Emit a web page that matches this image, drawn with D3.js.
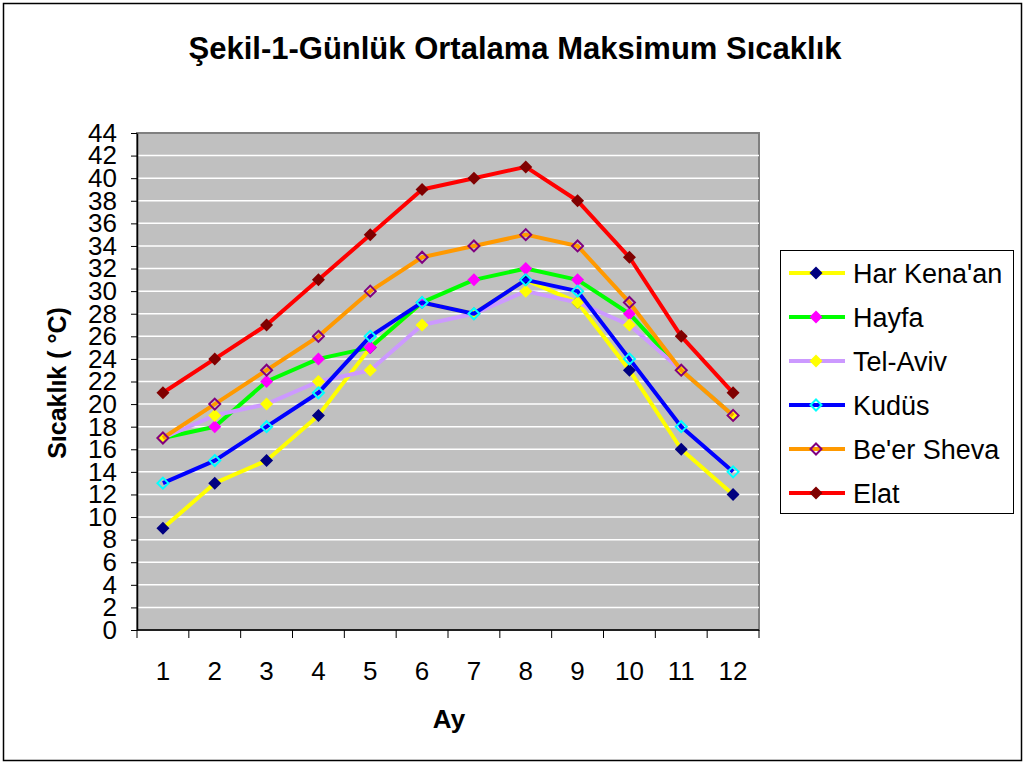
<!DOCTYPE html>
<html>
<head>
<meta charset="utf-8">
<script src="https://cdn.jsdelivr.net/npm/d3@7"></script>
<style>
  body { margin: 0; background: #fff; }
  text { font-family: "Liberation Sans", Arial, sans-serif; fill: #000; }
</style>
</head>
<body>
<svg id="chart" width="1027" height="764"></svg>
<script>
// months
var months = [1, 2, 3, 4, 5, 6, 7, 8, 9, 10, 11, 12];
var yTicks = d3.range(0, 45, 2);

// series values
var harKenaan = [9, 13, 15, 19, 25, 29, 28, 31, 29, 23, 16, 12];
var hayfa     = [17, 18, 22, 24, 25, 29, 31, 32, 31, 28, 23, 19];
var telAviv   = [17, 19, 20, 22, 23, 27, 28, 30, 29, 27, 23, 19];
var kudus     = [13, 15, 18, 21, 26, 29, 28, 31, 30, 24, 18, 14];
var beerSheva = [17, 20, 23, 26, 30, 33, 34, 35, 34, 29, 23, 19];
var elat      = [21, 24, 27, 31, 35, 39, 40, 41, 38, 33, 26, 21];

var seriesNames = ["Har Kena'an", "Hayfa", "Tel-Aviv", "Kudüs", "Be'er Sheva", "Elat"];
var seriesValues = [harKenaan, hayfa, telAviv, kudus, beerSheva, elat];
var lineColors = ["#FFFF00", "#00FF00", "#CC99FF", "#0000FF", "#FF9900", "#FF0000"];
var markerColors = ["#000080", "#FF00FF", "#FFFF00", "#00FFFF", "#800080", "#800000"];
var markerHollow = [false, false, false, true, true, false];

var svg = d3.select("#chart");

// outer frame
svg.append("rect")
    .attr("x", 3.5).attr("y", 3.5)
    .attr("width", 1018).attr("height", 757)
    .attr("fill", "#fff").attr("stroke", "#000").attr("stroke-width", 1.5);

var plot = {left: 137, top: 133, right: 759, bottom: 630};

var x = d3.scaleBand()
    .domain(months)
    .range([plot.left, plot.right]);

var y = d3.scaleLinear()
    .domain([0, 44])
    .range([plot.bottom, plot.top]);

// plot background
svg.append("rect")
    .attr("x", plot.left).attr("y", plot.top)
    .attr("width", plot.right - plot.left).attr("height", plot.bottom - plot.top)
    .attr("fill", "#C0C0C0").attr("stroke", "#808080").attr("stroke-width", 2);

// gridlines
svg.append("g")
    .selectAll("line")
    .data(yTicks.filter(function(d) { return d > 0 && d < 44; }))
    .join("line")
    .attr("x1", plot.left).attr("x2", plot.right)
    .attr("y1", function(d) { return y(d); })
    .attr("y2", function(d) { return y(d); })
    .attr("stroke", "#fff").attr("stroke-width", 1.5);

// y axis
var yAxis = svg.append("g")
    .attr("transform", "translate(" + plot.left + ",0)")
    .call(d3.axisLeft(y).tickValues(yTicks).tickSize(6).tickPadding(14).tickSizeOuter(0));
yAxis.select(".domain").attr("stroke", "#000").attr("stroke-width", 1.5);
yAxis.selectAll(".tick line").attr("stroke", "#000");
yAxis.selectAll(".tick text")
    .attr("font-size", 26)
    .attr("font-family", "Liberation Sans, Arial, sans-serif")
    .attr("fill", "#000");

// x axis: ticks between categories
var xAxisG = svg.append("g");
xAxisG.append("line")
    .attr("x1", plot.left).attr("x2", plot.right)
    .attr("y1", plot.bottom).attr("y2", plot.bottom)
    .attr("stroke", "#000").attr("stroke-width", 1.5);
xAxisG.selectAll("line.tk")
    .data(months.concat([13]))
    .join("line")
    .attr("class", "tk")
    .attr("x1", function(d) { return d <= 12 ? x(d) : plot.right; })
    .attr("x2", function(d) { return d <= 12 ? x(d) : plot.right; })
    .attr("y1", plot.bottom).attr("y2", plot.bottom + 8)
    .attr("stroke", "#000").attr("stroke-width", 1);
xAxisG.selectAll("text")
    .data(months)
    .join("text")
    .attr("x", function(d) { return x(d) + x.bandwidth() / 2; })
    .attr("y", 680)
    .attr("text-anchor", "middle")
    .attr("font-size", 26)
    .text(function(d) { return d; });

// axis titles
svg.append("text")
    .attr("x", 449).attr("y", 728)
    .attr("text-anchor", "middle")
    .attr("font-size", 26).attr("font-weight", "bold")
    .text("Ay");

svg.append("text")
    .attr("transform", "translate(66,383) rotate(-90)")
    .attr("text-anchor", "middle")
    .attr("font-size", 25).attr("font-weight", "bold")
    .text("Sıcaklık ( °C)");

// title
svg.append("text")
    .attr("x", 515).attr("y", 59)
    .attr("text-anchor", "middle")
    .attr("font-size", 31).attr("font-weight", "bold")
    .text("Şekil-1-Günlük Ortalama Maksimum Sıcaklık");

// series
var line = d3.line()
    .x(function(d, i) { return x(months[i]) + x.bandwidth() / 2; })
    .y(function(d) { return y(d); });

function diamond(r) {
    return "M0," + (-r) + "L" + r + ",0L0," + r + "L" + (-r) + ",0Z";
}

seriesValues.forEach(function(vals, si) {
    var g = svg.append("g");
    g.append("path")
        .attr("d", line(vals))
        .attr("fill", "none")
        .attr("stroke", lineColors[si])
        .attr("stroke-width", 4)
        .attr("stroke-linejoin", "round");
    g.selectAll("path.m")
        .data(vals)
        .join("path")
        .attr("class", "m")
        .attr("transform", function(d, i) {
            return "translate(" + (x(months[i]) + x.bandwidth() / 2) + "," + y(d) + ")";
        })
        .attr("d", markerHollow[si] ? diamond(5.5) : diamond(6.5))
        .attr("fill", markerHollow[si] ? "none" : markerColors[si])
        .attr("stroke", markerHollow[si] ? markerColors[si] : "none")
        .attr("stroke-width", 2);
});

// legend
var lg = svg.append("g");
lg.append("rect")
    .attr("x", 780.5).attr("y", 250.5)
    .attr("width", 233).attr("height", 263)
    .attr("fill", "#fff").attr("stroke", "#000").attr("stroke-width", 1);

var ly = d3.scalePoint()
    .domain(seriesNames)
    .range([273, 493]);

seriesNames.forEach(function(name, si) {
    var yy = ly(name);
    lg.append("line")
        .attr("x1", 789).attr("x2", 845)
        .attr("y1", yy).attr("y2", yy)
        .attr("stroke", lineColors[si]).attr("stroke-width", 4);
    lg.append("path")
        .attr("transform", "translate(816," + yy + ")")
        .attr("d", markerHollow[si] ? diamond(5.5) : diamond(6.5))
        .attr("fill", markerHollow[si] ? "none" : markerColors[si])
        .attr("stroke", markerHollow[si] ? markerColors[si] : "none")
        .attr("stroke-width", 2);
    lg.append("text")
        .attr("x", 853).attr("y", yy + 10)
        .attr("font-size", 27)
        .text(name);
});
</script>
</body>
</html>
